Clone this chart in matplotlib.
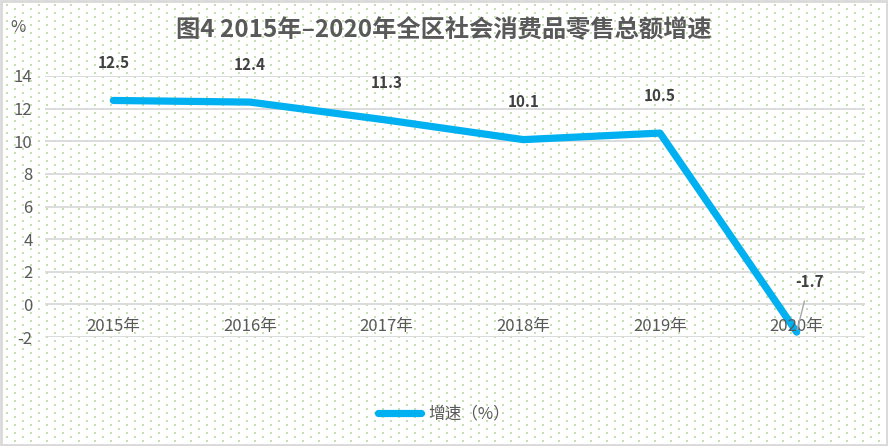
import numpy as np
import matplotlib
matplotlib.use("Agg")
from matplotlib import pyplot as plt
from matplotlib.patches import Rectangle

plt.rcParams['font.family'] = ['Noto Sans CJK SC', 'DejaVu Sans']

years = ["2015年", "2016年", "2017年", "2018年", "2019年", "2020年"]
growth = [12.5, 12.4, 11.3, 10.1, 10.5, -1.7]
y_ticks = [-2, 0, 2, 4, 6, 8, 10, 12, 14]
title = "图4 2015年–2020年全区社会消费品零售总额增速"
series_name = "增速（%）"

W, H = 888, 446
fig = plt.figure(figsize=(W / 100, H / 100), dpi=100)

# dotted background pattern + border, in pixel coords
bg = fig.add_axes([0, 0, 1, 1], zorder=0)
bg.set_xlim(0, W)
bg.set_ylim(H, 0)
bg.axis('off')
dx, dy = [], []
for r, yy in enumerate(np.arange(0.7, H, 4)):
    x0 = 6.7 if r % 2 else 14.7
    for xx in np.arange(x0, W, 16):
        dx.append(xx)
        dy.append(yy)
bg.scatter(dx, dy, s=2.2, marker='s', color='#c5dfb3', linewidths=0)
bg.add_patch(Rectangle((1, 1), W - 2, H - 2, fill=False, edgecolor='#d9d9d9', linewidth=2))

ax = fig.add_axes([45 / W, 1 - 337 / H, 820 / W, 261 / H], zorder=1)
ax.patch.set_alpha(0)
x = np.arange(len(years))
ax.plot(x, growth, color='#00b0f0', linewidth=5.2, solid_capstyle='round',
        solid_joinstyle='round', label=series_name, zorder=3)

ax.set_xlim(-0.5, len(years) - 0.5)
ax.set_ylim(-2, 14)
ax.set_yticks(y_ticks)
ax.set_yticklabels([str(v) for v in y_ticks], color='#595959', fontsize=12)
ax.grid(axis='y', color='#d9d9d9', linewidth=1.3)
ax.set_axisbelow(True)
ax.tick_params(length=0)
ax.tick_params(axis='y', pad=9)
for s in ax.spines.values():
    s.set_visible(False)
ax.set_xticks([])

# category labels sit just under the zero line
for i, lab in enumerate(years):
    ax.text(i, -1.35, lab, ha='center', va='center', color='#595959', fontsize=12)

for i, v in enumerate(growth[:-1]):
    ax.annotate(f"{v}", (i, v), xytext=(0, 27), textcoords='offset points',
                ha='center', va='center', fontsize=11, fontweight='bold', color='#404040')
ax.annotate(f"{growth[-1]}", (x[-1], growth[-1]), xytext=(9, 36), textcoords='offset points',
            ha='center', va='center', fontsize=11, fontweight='bold', color='#404040',
            arrowprops=dict(arrowstyle='-', color='#a6a6a6', lw=1, shrinkA=6, shrinkB=2))

fig.text(444 / W, 1 - 30 / H, title, ha='center', va='center', fontsize=17.5,
         fontweight='bold', color='#595959')
fig.text(18 / W, 1 - 28 / H, "%", ha='center', va='center', fontsize=12, color='#595959')

fig.legend(loc='center', bbox_to_anchor=(0.5, 1 - 414 / H), frameon=False,
           fontsize=12, handlelength=2.6, handletextpad=0.4, labelcolor='#595959')

fig.savefig("out.png", dpi=100)
